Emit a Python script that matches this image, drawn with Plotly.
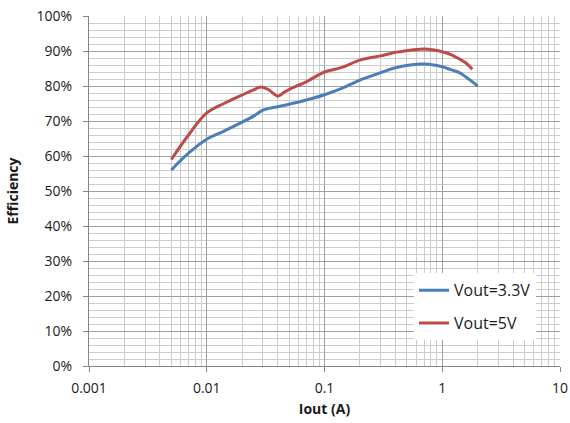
import plotly.graph_objects as go

# Output current (A) and measured efficiency for each output voltage
iout_3v3 = [0.005, 0.007, 0.01, 0.014, 0.019, 0.025, 0.03, 0.039, 0.05, 0.07,
            0.1, 0.14, 0.2, 0.3, 0.4, 0.55, 0.7, 0.85, 1.0, 1.2, 1.4, 1.6, 2.0]
eff_3v3 = [0.560, 0.608, 0.648, 0.671, 0.693, 0.714, 0.731, 0.740, 0.748, 0.760,
           0.775, 0.793, 0.817, 0.838, 0.852, 0.861, 0.863, 0.860, 0.855, 0.846,
           0.838, 0.825, 0.800]

iout_5v = [0.005, 0.007, 0.01, 0.014, 0.019, 0.025, 0.029, 0.034, 0.040, 0.045,
           0.05, 0.07, 0.1, 0.14, 0.2, 0.3, 0.4, 0.55, 0.7, 0.85, 1.0, 1.2, 1.4,
           1.6, 1.8]
eff_5v = [0.590, 0.660, 0.723, 0.750, 0.771, 0.789, 0.797, 0.788, 0.771, 0.781,
          0.790, 0.812, 0.840, 0.853, 0.874, 0.886, 0.896, 0.903, 0.906, 0.903,
          0.898, 0.889, 0.877, 0.865, 0.848]

series_names = ["Vout=3.3V", "Vout=5V"]
series_colors = ["#4a7ebb", "#be4b48"]

x_tick_vals = [0.001, 0.01, 0.1, 1, 10]
x_tick_text = ["0.001", "0.01", "0.1", "1", "10"]
x_minor_vals = [m * d for d in [0.001, 0.01, 0.1, 1] for m in range(2, 10)]

FONT = "Open Sans"
AXIS_COLOR = "#868686"
TEXT_COLOR = "#1a1a1a"

fig = go.Figure()
for xs, ys, name, color in zip([iout_3v3, iout_5v], [eff_3v3, eff_5v],
                               series_names, series_colors):
    fig.add_trace(go.Scatter(
        x=xs, y=ys, name=name, mode="lines", legendgroup=name,
        line=dict(color=color, width=3, shape="spline", smoothing=1.0),
    ))

fig.update_layout(
    width=570, height=423,
    margin=dict(l=89, r=10, t=16, b=57, autoexpand=False),
    paper_bgcolor="white", plot_bgcolor="white",
    font=dict(family=FONT, size=14, color=TEXT_COLOR),
    showlegend=True,
    legend=dict(
        x=0.69, y=0.265, xanchor="left", yanchor="top",
        bgcolor="white", borderwidth=0,
        font=dict(family=FONT, size=16, color=TEXT_COLOR),
        tracegroupgap=9, traceorder="grouped",
    ),
)

fig.update_xaxes(
    type="log", range=[-3, 1], automargin=False,
    tickmode="array", tickvals=x_tick_vals, ticktext=x_tick_text,
    showline=True, linecolor=AXIS_COLOR, linewidth=1,
    ticks="outside", ticklen=5, tickcolor=AXIS_COLOR,
    ticklabelstandoff=4,
    showgrid=True, gridcolor="#a0a0a0", gridwidth=1,
    minor=dict(tickvals=x_minor_vals, showgrid=True, gridcolor="#cccccc",
               gridwidth=1, ticks=""),
    zeroline=False,
    title=dict(text="<b>Iout (A)</b>", font=dict(family=FONT, size=14), standoff=8),
    tickfont=dict(family=FONT, size=14),
)

fig.update_yaxes(
    range=[0, 1], dtick=0.1, tickformat=".0%", automargin=False,
    showline=True, linecolor=AXIS_COLOR, linewidth=1,
    ticks="outside", ticklen=5, tickcolor=AXIS_COLOR,
    ticklabelstandoff=8,
    showgrid=True, gridcolor="#a0a0a0", gridwidth=1,
    minor=dict(dtick=0.02, showgrid=True, gridcolor="#cccccc", gridwidth=1,
               ticks=""),
    zeroline=False,
    title=dict(text="<b>Efficiency</b>", font=dict(family=FONT, size=14), standoff=14),
    tickfont=dict(family=FONT, size=14),
)

fig.write_html("out.html")
